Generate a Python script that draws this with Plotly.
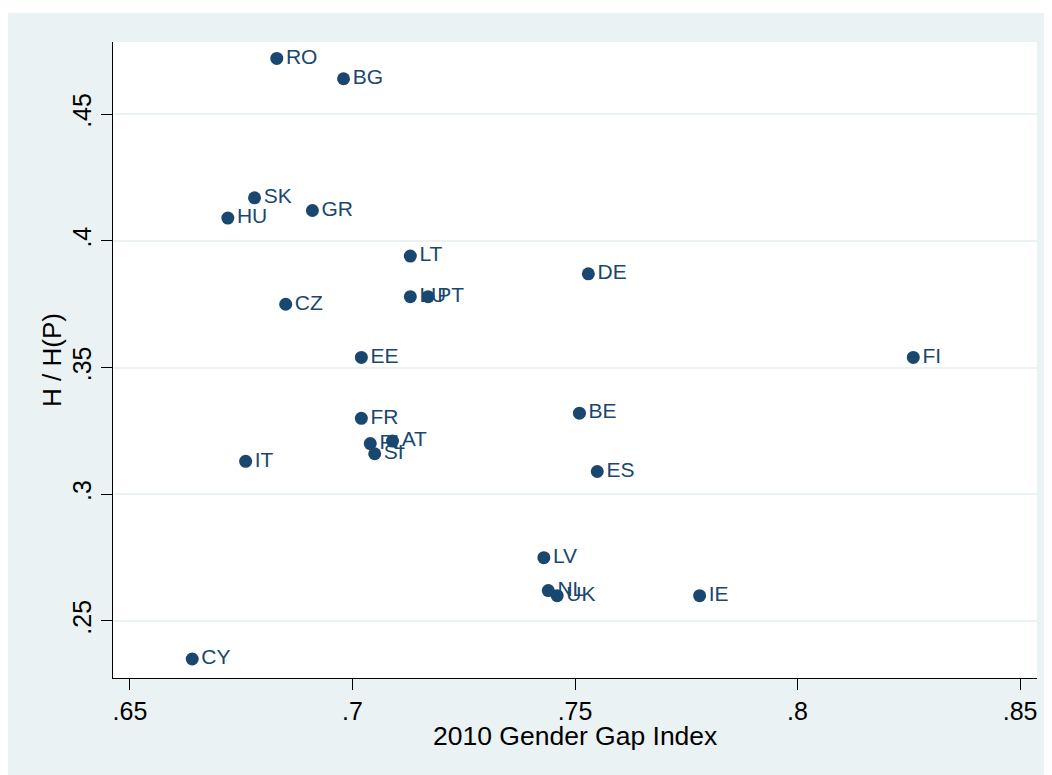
import plotly.graph_objects as go

countries = ["RO", "BG", "SK", "HU", "GR", "LT", "CZ", "LU", "PT", "DE", "EE", "FR",
             "BE", "PL", "AT", "SI", "ES", "IT", "LV", "NL", "UK", "CY", "IE", "FI"]
gender_gap = [0.683, 0.698, 0.678, 0.672, 0.691, 0.713, 0.685, 0.713, 0.717, 0.753, 0.702, 0.702,
              0.751, 0.704, 0.709, 0.705, 0.755, 0.676, 0.743, 0.744, 0.746, 0.664, 0.778, 0.826]
h_ratio = [0.472, 0.464, 0.417, 0.409, 0.412, 0.394, 0.375, 0.378, 0.378, 0.387, 0.354, 0.330,
           0.332, 0.320, 0.321, 0.316, 0.309, 0.313, 0.275, 0.262, 0.260, 0.235, 0.260, 0.354]

x_ticks = [0.65, 0.7, 0.75, 0.8, 0.85]
x_ticklabels = [".65", ".7", ".75", ".8", ".85"]
y_ticks = [0.25, 0.3, 0.35, 0.4, 0.45]
y_ticklabels = [".25", ".3", ".35", ".4", ".45"]

NAVY = "#1A476F"
BG = "#EAF2F3"
FONT = "Liberation Sans, Arial, sans-serif"

fig = go.Figure()
fig.add_trace(go.Scatter(
    x=gender_gap, y=h_ratio, text=countries,
    mode="markers+text", textposition="middle right",
    marker=dict(color=NAVY, size=13, line=dict(width=0)),
    textfont=dict(color=NAVY, size=21, family=FONT),
    cliponaxis=False, showlegend=False, hoverinfo="skip",
))

# page has an 8px body margin, so the figure is offset by (8, 8)
W, H = 1044, 767
L, R, T, B = 105, 15, 34, 97
fig.update_layout(
    width=W, height=H,
    margin=dict(l=L, r=R, t=T, b=B, pad=0),
    paper_bgcolor=BG, plot_bgcolor="white",
    font=dict(family=FONT, color="black"),
    xaxis=dict(
        range=[0.6462, 0.8538], tickvals=x_ticks, ticktext=x_ticklabels,
        showgrid=False, zeroline=False, showline=True, linecolor="black", linewidth=1,
        ticks="outside", ticklen=11, tickcolor="black", tickwidth=1,
        tickfont=dict(size=25, family=FONT, color="black"),
    ),
    yaxis=dict(
        range=[0.2275, 0.4785], tickvals=y_ticks, ticktext=y_ticklabels,
        showgrid=True, gridcolor=BG, gridwidth=2, zeroline=False,
        showline=True, linecolor="black", linewidth=1,
        ticks="outside", ticklen=11, tickcolor="black", tickwidth=1, tickangle=-90,
        tickfont=dict(size=25, family=FONT, color="black"),
    ),
)

pw, ph = W - L - R, H - T - B
# axis titles placed explicitly
fig.add_annotation(text="H / H(P)", xref="paper", yref="paper", x=(44 - L) / pw, y=0.5,
                   xanchor="center", yanchor="middle", textangle=-90, showarrow=False,
                   font=dict(size=26, family=FONT, color="black"))
fig.add_annotation(text="2010 Gender Gap Index", xref="paper", yref="paper", x=0.5,
                   y=(H - B - T - 728 + T) / ph,
                   xanchor="center", yanchor="middle", showarrow=False,
                   font=dict(size=26.5, family=FONT, color="black"))
# white strip at the very top of the image (outside the Stata graph region)
fig.add_shape(type="rect", xref="paper", yref="paper", layer="below",
              x0=-L / pw - 0.01, x1=(W - L) / pw + 0.01, y0=(H - B - 5) / ph, y1=(H - B) / ph + 0.01,
              fillcolor="white", line=dict(width=0))

fig.write_html("out.html")
